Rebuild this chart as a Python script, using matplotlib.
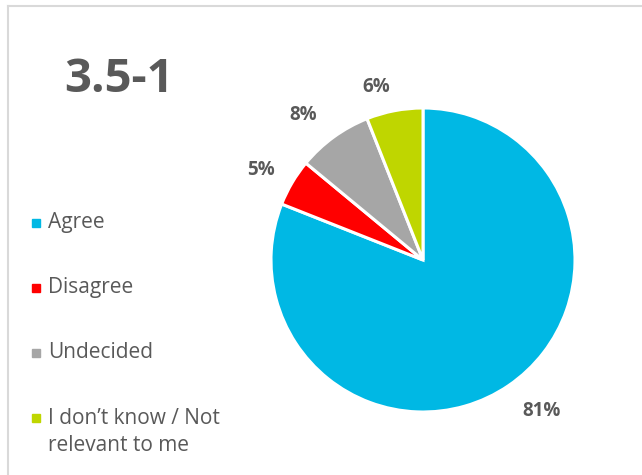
import matplotlib
matplotlib.use("Agg")
import matplotlib.pyplot as plt
from matplotlib.lines import Line2D
from matplotlib.patches import Rectangle

plt.rcParams['font.family'] = ['Open Sans', 'DejaVu Sans']

title = "3.5-1"
categories = ["Agree", "Disagree", "Undecided", "I don\u2019t know / Not\nrelevant to me"]
values = [81, 5, 8, 6]
colors = ["#00B8E4", "#FF0000", "#A6A6A6", "#BFD600"]
text_gray = "#595959"

W, H = 642, 475
fig = plt.figure(figsize=(W / 100, H / 100), dpi=100)

# chart-area frame (top and left edges visible)
frame_color = "#D9D9D9"
fig.add_artist(Line2D([8 / W, 1.0], [1 - 5.5 / H, 1 - 5.5 / H], color=frame_color,
                      lw=1.5, transform=fig.transFigure))
fig.add_artist(Line2D([8 / W, 8 / W], [0.0, 1 - 5.5 / H], color=frame_color,
                      lw=1.5, transform=fig.transFigure))

# pie
ax = fig.add_axes([271 / W, (H - 412) / H, 304 / W, 304 / H])
wedges, _, autotexts = ax.pie(
    values, colors=colors, startangle=90, counterclock=False,
    wedgeprops=dict(edgecolor="white", linewidth=2.2),
    autopct=lambda p: f"{p:.0f}%", pctdistance=1.22, radius=1.0,
)
# outside-end placement of the data labels
label_xy = [(0.783, -0.993), (-1.066, 0.592), (-0.789, 0.954), (-0.309, 1.138)]
for t, xy in zip(autotexts, label_xy):
    t.set_position(xy)
    t.set_color(text_gray)
    t.set_fontsize(13.5)
    t.set_fontweight("bold")
ax.set_xlim(-1, 1)
ax.set_ylim(-1, 1)
ax.set_aspect("equal")
ax.axis("off")

# title
fig.text(64 / W, 1 - 80 / H, title, fontsize=34, fontweight="bold",
         color=text_gray, va="center", ha="left")

# legend
legend_y = [223, 288, 353, 418]
for cat, col, y in zip(categories, colors, legend_y):
    fig.add_artist(Rectangle((32 / W, 1 - (y + 4) / H), 8 / W, 8 / H,
                             color=col, transform=fig.transFigure))
    if "\n" in cat:
        fig.text(48 / W, 1 - (y - 10) / H, cat, fontsize=15, color=text_gray,
                 va="top", ha="left", linespacing=1.35)
    else:
        fig.text(48 / W, 1 - y / H, cat, fontsize=15, color=text_gray,
                 va="center", ha="left")

fig.savefig("out.png", dpi=100, facecolor="white")
